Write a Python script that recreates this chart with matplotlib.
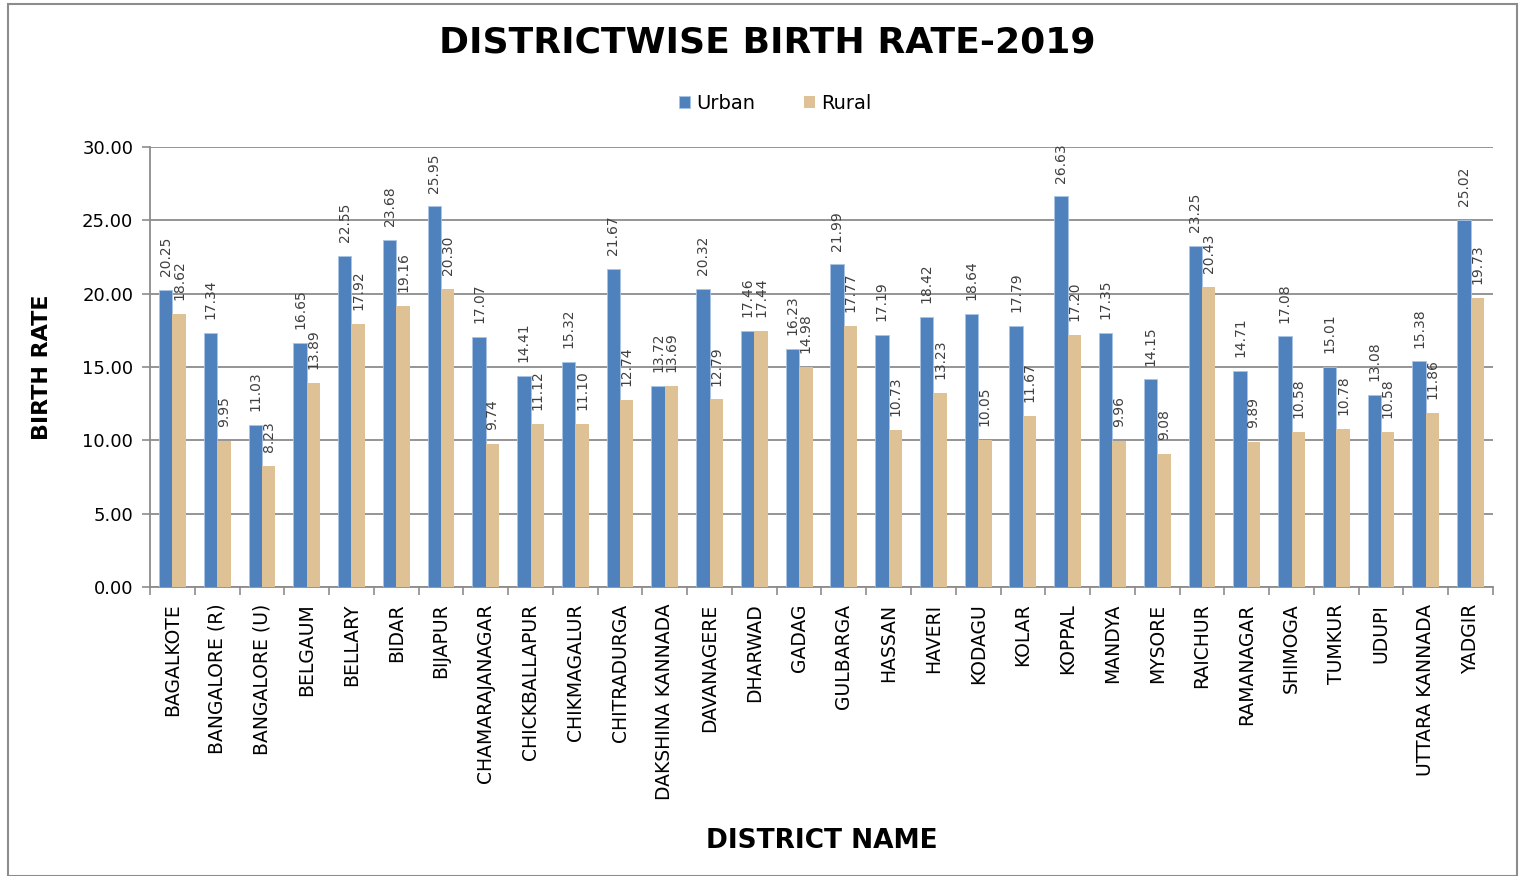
import numpy as np
import matplotlib
matplotlib.use("Agg")
import matplotlib.pyplot as plt
from matplotlib.patches import Rectangle

districts = ["BAGALKOTE", "BANGALORE (R)", "BANGALORE (U)", "BELGAUM", "BELLARY",
             "BIDAR", "BIJAPUR", "CHAMARAJANAGAR", "CHICKBALLAPUR", "CHIKMAGALUR",
             "CHITRADURGA", "DAKSHINA KANNADA", "DAVANAGERE", "DHARWAD", "GADAG",
             "GULBARGA", "HASSAN", "HAVERI", "KODAGU", "KOLAR", "KOPPAL", "MANDYA",
             "MYSORE", "RAICHUR", "RAMANAGAR", "SHIMOGA", "TUMKUR", "UDUPI",
             "UTTARA KANNADA", "YADGIR"]
urban = [20.25, 17.34, 11.03, 16.65, 22.55, 23.68, 25.95, 17.07, 14.41, 15.32,
         21.67, 13.72, 20.32, 17.46, 16.23, 21.99, 17.19, 18.42, 18.64, 17.79,
         26.63, 17.35, 14.15, 23.25, 14.71, 17.08, 15.01, 13.08, 15.38, 25.02]
rural = [18.62, 9.95, 8.23, 13.89, 17.92, 19.16, 20.30, 9.74, 11.12, 11.10,
         12.74, 13.69, 12.79, 17.44, 14.98, 17.77, 10.73, 13.23, 10.05, 11.67,
         17.20, 9.96, 9.08, 20.43, 9.89, 10.58, 10.78, 10.58, 11.86, 19.73]
yticks = [0, 5, 10, 15, 20, 25, 30]

URBAN_C = "#4F81BD"
RURAL_C = "#DFC196"
GRID_C = "#8C8C8C"

plt.rcParams["font.family"] = ["DejaVu Sans"]

fig = plt.figure(figsize=(15.2, 8.76), dpi=100)
ax = fig.add_axes([0.0987, 0.3299, 0.8835, 0.5023])

x = np.arange(len(districts))
w = 0.3
b1 = ax.bar(x - w / 2, urban, w, color=URBAN_C, edgecolor="#A9C4E6", linewidth=0.6,
            label="Urban", zorder=3)
b2 = ax.bar(x + w / 2, rural, w, color=RURAL_C, label="Rural", zorder=3)

for bars, vals in ((b1, urban), (b2, rural)):
    for r, v in zip(bars, vals):
        ax.annotate(f"{v:.2f}", (r.get_x() + r.get_width() / 2, v),
                    xytext=(0, 10), textcoords="offset points",
                    rotation=90, ha="center", va="bottom",
                    fontsize=10, color="#404040", zorder=4)

ax.set_xlim(-0.5, len(districts) - 0.5)
ax.set_ylim(0, 30)
ax.set_yticks(yticks)
ax.set_yticklabels([f"{t:.2f}" for t in yticks], fontsize=13)
ax.set_xticks(x)
ax.set_xticklabels(districts, rotation=90, fontsize=13.5)
ax.tick_params(axis="x", which="major", length=0, pad=12)
ax.set_xticks(np.arange(-0.5, len(districts)), minor=True)
ax.tick_params(axis="x", which="minor", length=6, color=GRID_C, width=1.2)
ax.tick_params(axis="y", length=6, color=GRID_C, width=1.2, pad=6)

ax.grid(axis="y", color=GRID_C, linewidth=1.3, zorder=0)
ax.set_axisbelow(True)
for s in ("top", "right"):
    ax.spines[s].set_visible(False)
for s in ("left", "bottom"):
    ax.spines[s].set_color(GRID_C)
    ax.spines[s].set_linewidth(1.3)

ax.set_ylabel("BIRTH RATE", fontsize=16, fontweight="bold", labelpad=22)
ax.set_xlabel("DISTRICT NAME", fontsize=19, fontweight="bold", labelpad=20)

fig.text(0.505, 0.952, "DISTRICTWISE BIRTH RATE-2019", ha="center", va="center",
         fontsize=26, fontweight="bold")
fig.legend(handles=[b1, b2], loc="center", bbox_to_anchor=(0.51, 0.882), ncol=2,
           frameon=False, fontsize=14, handlelength=0.6, handleheight=0.6,
           handletextpad=0.3, columnspacing=2.5)

fig.add_artist(Rectangle((0.005, 0.0), 0.993, 0.996, transform=fig.transFigure,
                         fill=False, edgecolor="#8C8C8C", linewidth=1.5))

fig.savefig("out.png", dpi=100)
